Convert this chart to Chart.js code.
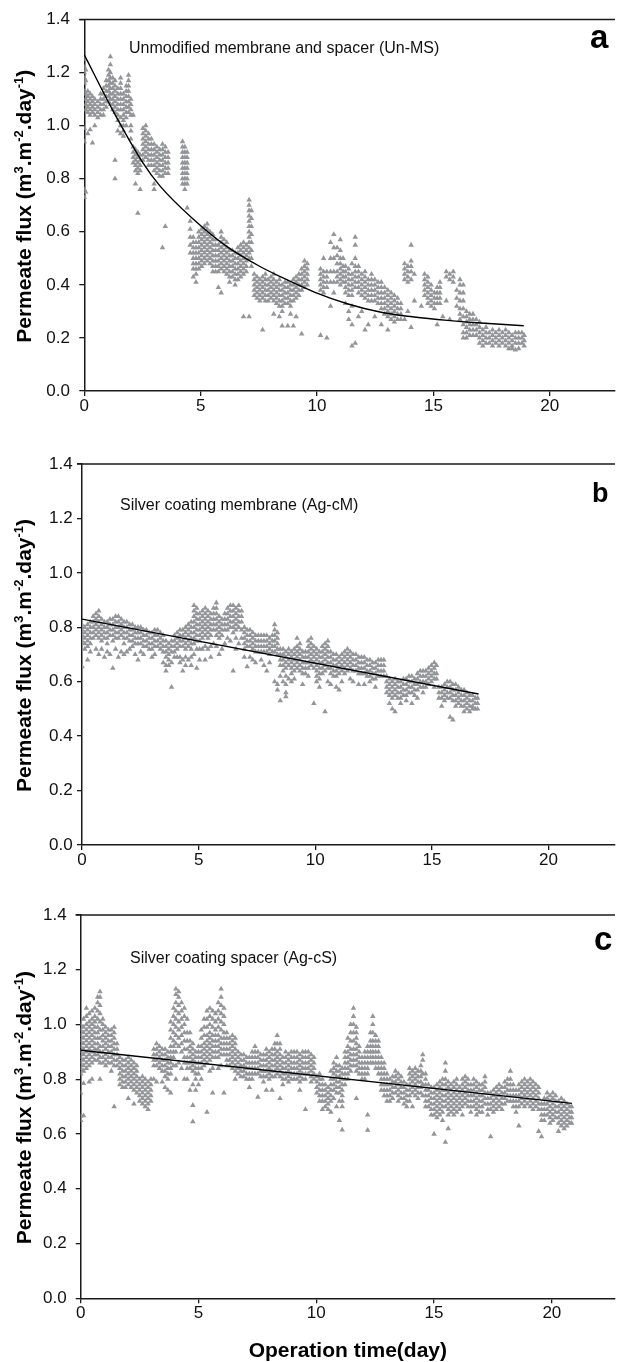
<!DOCTYPE html>
<html>
<head>
<meta charset="utf-8">
<script src="https://cdn.jsdelivr.net/npm/chart.js@4.4.1/dist/chart.umd.min.js"></script>
<style>
  html, body { margin: 0; padding: 0; background: #fff; overflow: hidden; }
  #wrap { position: relative; width: 619px; height: 1362px; background: #fff; }
  canvas { position: absolute; left: 0; }
</style>
</head>
<body>
<div id="wrap">
  <canvas id="chartA" width="619" height="430" style="top:0px"></canvas>
  <canvas id="chartB" width="619" height="450" style="top:430px"></canvas>
  <canvas id="chartC" width="619" height="482" style="top:880px"></canvas>
</div>
<script>
// tick values shared by the three panels
const xTicks = [0, 5, 10, 15, 20];
const yTicks = [0, 0.2, 0.4, 0.6, 0.8, 1.0, 1.2, 1.4];

// y title pieces: [text, isSuperscript]
const yTitleParts = [['Permeate flux (m', false], ['3', true], ['.m', false], ['-2', true], ['.day', false], ['-1', true], [')', false]];
const xTitle = 'Operation time(day)';
const notes = ['Unmodified membrane and spacer (Un-MS)', 'Silver coating membrane (Ag-cM)', 'Silver coating spacer (Ag-cS)'];
const letters = ['a', 'b', 'c'];

// panel a: [time, flux, flux, ...] read column by column
const aCols = [
  [0.0, 1.25, 1.22, 1.2, 1.18, 1.16, 1.13, 0.99, 0.94, 0.76, 0.73],
  [0.06, 1.21, 1.17, 1.12, 1.1, 1.08, 1.06, 0.75],
  [0.15, 1.13, 1.11, 1.09, 1.07, 1.05, 0.97],
  [0.25, 1.12, 1.1, 1.08, 1.06, 1.04, 0.985],
  [0.35, 1.11, 1.09, 1.07, 1.05, 0.935],
  [0.45, 1.1, 1.08, 1.06, 1.04, 1.0],
  [0.58, 1.09, 1.07, 1.05, 1.03],
  [0.7, 1.12, 1.1, 1.08, 1.06, 1.04],
  [0.82, 1.14, 1.12, 1.1, 1.08, 1.06, 1.04],
  [0.94, 1.17, 1.15, 1.13, 1.11, 1.09, 1.07],
  [1.04, 1.21, 1.19, 1.17, 1.15, 1.13, 1.11, 1.09],
  [1.12, 1.26, 1.23, 1.2, 1.18, 1.16, 1.14, 1.12, 1.1, 1.08],
  [1.22, 1.18, 1.16, 1.14, 1.12, 1.1, 1.08, 1.06],
  [1.32, 1.17, 1.15, 1.13, 1.11, 1.09, 1.07, 1.05, 0.87, 0.8],
  [1.44, 1.14, 1.12, 1.1, 1.08, 1.06, 1.04, 1.02, 0.98],
  [1.56, 1.18, 1.16, 1.14, 1.12, 1.1, 1.08, 1.06, 1.03, 1.0, 0.97],
  [1.68, 1.12, 1.1, 1.08, 1.06, 1.04, 1.02, 1.0, 0.98, 0.96],
  [1.8, 1.15, 1.13, 1.11, 1.09, 1.07, 1.05, 1.03, 1.0],
  [1.9, 1.19, 1.17, 1.15, 1.13, 1.11, 1.09, 1.07, 1.05],
  [2.0, 1.1, 1.08, 1.06, 1.04, 1.0, 0.98, 0.95],
  [2.1, 1.04, 0.92, 0.9, 0.88, 0.86],
  [2.2, 0.91, 0.89, 0.87, 0.85, 0.83, 0.78],
  [2.3, 0.9, 0.88, 0.86, 0.84, 0.82, 0.67],
  [2.4, 0.89, 0.87, 0.85, 0.83, 0.76],
  [2.52, 0.99, 0.97, 0.95, 0.93, 0.91, 0.89, 0.87],
  [2.64, 1.0, 0.98, 0.96, 0.94, 0.92, 0.9, 0.88],
  [2.76, 0.97, 0.95, 0.93, 0.91, 0.89, 0.87, 0.85],
  [2.88, 0.95, 0.93, 0.91, 0.89, 0.87, 0.85],
  [3.0, 0.93, 0.91, 0.89, 0.87, 0.85, 0.83, 0.78, 0.76],
  [3.12, 0.92, 0.9, 0.88, 0.86, 0.84, 0.82],
  [3.24, 0.91, 0.89, 0.87, 0.85, 0.83, 0.81],
  [3.36, 0.93, 0.91, 0.89, 0.87, 0.85, 0.83, 0.81, 0.54],
  [3.48, 0.92, 0.9, 0.88, 0.86, 0.84, 0.82, 0.62],
  [3.6, 0.9, 0.88, 0.86, 0.84, 0.82],
  [4.22, 0.94, 0.92, 0.9, 0.88, 0.86, 0.84, 0.82, 0.8, 0.78],
  [4.32, 0.92, 0.9, 0.88, 0.86, 0.84, 0.82, 0.8, 0.78, 0.76],
  [4.42, 0.9, 0.88, 0.86, 0.84, 0.82, 0.8, 0.78, 0.69],
  [4.55, 0.64, 0.61, 0.58, 0.55, 0.52],
  [4.68, 0.58, 0.56, 0.54, 0.52, 0.5, 0.48, 0.46, 0.43],
  [4.8, 0.56, 0.54, 0.52, 0.5, 0.48, 0.46, 0.44, 0.41],
  [4.92, 0.6, 0.58, 0.56, 0.54, 0.52, 0.5, 0.48, 0.46],
  [5.04, 0.61, 0.59, 0.57, 0.55, 0.53, 0.51, 0.49, 0.47],
  [5.16, 0.62, 0.6, 0.58, 0.56, 0.54, 0.52, 0.5, 0.48],
  [5.28, 0.63, 0.61, 0.59, 0.57, 0.55, 0.53, 0.51, 0.49],
  [5.4, 0.6, 0.58, 0.56, 0.54, 0.52, 0.5, 0.48],
  [5.52, 0.59, 0.57, 0.55, 0.53, 0.51, 0.49, 0.47, 0.45],
  [5.64, 0.57, 0.55, 0.53, 0.51, 0.49, 0.47, 0.45],
  [5.76, 0.55, 0.53, 0.51, 0.49, 0.47, 0.45, 0.39],
  [5.88, 0.6, 0.58, 0.56, 0.54, 0.52, 0.5, 0.48, 0.46, 0.37],
  [6.0, 0.57, 0.55, 0.53, 0.51, 0.49, 0.47, 0.45],
  [6.12, 0.56, 0.54, 0.52, 0.5, 0.48, 0.46, 0.44],
  [6.24, 0.53, 0.51, 0.49, 0.47, 0.45, 0.43, 0.41],
  [6.36, 0.53, 0.51, 0.49, 0.47, 0.45, 0.43],
  [6.48, 0.52, 0.5, 0.48, 0.46, 0.44, 0.42, 0.4],
  [6.6, 0.54, 0.52, 0.5, 0.48, 0.46, 0.44, 0.42],
  [6.72, 0.55, 0.53, 0.51, 0.49, 0.47, 0.45, 0.43],
  [6.84, 0.56, 0.54, 0.52, 0.5, 0.48, 0.46, 0.44, 0.28],
  [6.96, 0.55, 0.53, 0.51, 0.49, 0.47, 0.45],
  [7.08, 0.72, 0.7, 0.68, 0.66, 0.64, 0.62, 0.6, 0.58, 0.56, 0.54, 0.52, 0.5, 0.28],
  [7.18, 0.68, 0.65, 0.62, 0.59, 0.56, 0.53, 0.5, 0.47],
  [7.3, 0.44, 0.42, 0.4, 0.38, 0.36],
  [7.42, 0.43, 0.41, 0.39, 0.37, 0.35],
  [7.54, 0.42, 0.4, 0.38, 0.36, 0.34],
  [7.66, 0.43, 0.41, 0.39, 0.37, 0.35, 0.23],
  [7.78, 0.44, 0.42, 0.4, 0.38, 0.36, 0.34],
  [7.9, 0.42, 0.4, 0.38, 0.36, 0.34],
  [8.02, 0.43, 0.41, 0.39, 0.37, 0.35],
  [8.14, 0.44, 0.42, 0.4, 0.38, 0.36, 0.34, 0.29],
  [8.26, 0.41, 0.39, 0.37, 0.35, 0.33],
  [8.38, 0.42, 0.4, 0.38, 0.36, 0.34, 0.32, 0.28],
  [8.5, 0.4, 0.38, 0.36, 0.34, 0.32, 0.3, 0.245],
  [8.62, 0.41, 0.39, 0.37, 0.35, 0.33],
  [8.74, 0.41, 0.39, 0.37, 0.35, 0.33, 0.245],
  [8.86, 0.4, 0.38, 0.36, 0.34, 0.32, 0.29],
  [8.98, 0.42, 0.4, 0.38, 0.36, 0.34, 0.245],
  [9.1, 0.43, 0.41, 0.39, 0.37, 0.35, 0.28],
  [9.22, 0.44, 0.42, 0.4, 0.38, 0.36],
  [9.34, 0.46, 0.44, 0.42, 0.4, 0.38, 0.215],
  [9.46, 0.49, 0.47, 0.45, 0.43, 0.41, 0.39],
  [9.58, 0.48, 0.46, 0.44, 0.42, 0.4],
  [10.15, 0.46, 0.44, 0.42, 0.4, 0.38, 0.21],
  [10.28, 0.5, 0.45, 0.43, 0.41, 0.39, 0.37],
  [10.42, 0.45, 0.43, 0.41, 0.39, 0.2],
  [10.58, 0.56, 0.5, 0.45, 0.41, 0.32],
  [10.72, 0.59, 0.54, 0.5, 0.45, 0.41, 0.37],
  [10.86, 0.54, 0.51, 0.48, 0.45, 0.43, 0.41],
  [11.0, 0.57, 0.53, 0.5, 0.48, 0.46, 0.44, 0.42, 0.4],
  [11.12, 0.5, 0.47, 0.45, 0.43, 0.41],
  [11.22, 0.47, 0.45, 0.43, 0.41, 0.39, 0.37, 0.33],
  [11.36, 0.46, 0.44, 0.42, 0.4, 0.38, 0.36, 0.3, 0.27],
  [11.5, 0.48, 0.44, 0.42, 0.4, 0.38, 0.36, 0.32, 0.25, 0.17],
  [11.64, 0.58, 0.55, 0.5, 0.47, 0.45, 0.43, 0.41, 0.39, 0.18],
  [11.78, 0.47, 0.45, 0.43, 0.41, 0.39, 0.37, 0.28],
  [11.92, 0.44, 0.42, 0.4, 0.38, 0.36, 0.3],
  [12.06, 0.45, 0.43, 0.41, 0.39, 0.37, 0.35, 0.23],
  [12.2, 0.42, 0.4, 0.38, 0.36, 0.34, 0.25],
  [12.34, 0.44, 0.42, 0.4, 0.38, 0.36, 0.34],
  [12.48, 0.42, 0.4, 0.38, 0.36, 0.34, 0.28],
  [12.62, 0.41, 0.39, 0.37, 0.35, 0.33],
  [12.76, 0.41, 0.39, 0.37, 0.35, 0.33, 0.31, 0.25],
  [12.9, 0.39, 0.37, 0.35, 0.33, 0.31, 0.29],
  [13.04, 0.38, 0.36, 0.34, 0.32, 0.3, 0.28, 0.23],
  [13.18, 0.37, 0.35, 0.33, 0.31, 0.29, 0.27],
  [13.32, 0.36, 0.34, 0.32, 0.3, 0.28, 0.26],
  [13.46, 0.35, 0.33, 0.31, 0.29, 0.27],
  [13.6, 0.33, 0.31, 0.29, 0.27],
  [13.76, 0.48, 0.46, 0.44, 0.42, 0.27],
  [13.9, 0.47, 0.45, 0.43, 0.41, 0.3],
  [14.04, 0.55, 0.49, 0.47, 0.45, 0.42, 0.24],
  [14.18, 0.44, 0.34],
  [14.48, 0.32],
  [14.62, 0.44, 0.42, 0.4, 0.38, 0.36],
  [14.76, 0.43, 0.41, 0.39, 0.37, 0.35, 0.33],
  [14.9, 0.4, 0.38, 0.36, 0.34, 0.32],
  [15.04, 0.37, 0.35, 0.33, 0.31],
  [15.16, 0.39, 0.37, 0.35, 0.33, 0.25],
  [15.28, 0.41, 0.39, 0.37, 0.35, 0.33],
  [15.4, 0.28],
  [15.55, 0.45, 0.43, 0.34],
  [15.7, 0.44, 0.42, 0.27],
  [15.85, 0.45, 0.43, 0.41],
  [16.0, 0.38, 0.35, 0.32],
  [16.14, 0.42, 0.4, 0.37, 0.34, 0.31, 0.29, 0.27],
  [16.28, 0.4, 0.37, 0.34, 0.31, 0.28, 0.25, 0.22, 0.2],
  [16.42, 0.3, 0.28, 0.26, 0.24, 0.22, 0.2],
  [16.56, 0.29, 0.27, 0.25, 0.23, 0.21],
  [16.7, 0.29, 0.27, 0.25, 0.23, 0.21],
  [16.84, 0.27, 0.25, 0.23, 0.21],
  [16.98, 0.26, 0.24, 0.22, 0.2, 0.18],
  [17.12, 0.23, 0.21, 0.19, 0.17],
  [17.26, 0.24, 0.22, 0.2, 0.18],
  [17.4, 0.22, 0.2, 0.18],
  [17.54, 0.23, 0.21, 0.19, 0.17],
  [17.68, 0.22, 0.2, 0.18],
  [17.82, 0.23, 0.21, 0.19, 0.17],
  [17.96, 0.22, 0.2, 0.18],
  [18.1, 0.23, 0.21, 0.19, 0.17],
  [18.24, 0.22, 0.2, 0.18, 0.16],
  [18.38, 0.21, 0.19, 0.17, 0.16],
  [18.52, 0.22, 0.2, 0.18, 0.155],
  [18.66, 0.22, 0.2, 0.18, 0.16],
  [18.8, 0.22, 0.2, 0.18],
  [18.9, 0.21, 0.19, 0.17]
];
const aFitT = [0, 1.24, 2.52, 3.23, 4.65, 6.07, 7.49, 8.49, 9.91, 11.33, 12.75, 14.17, 15.6, 16.87, 18.88];
const aFitF = [1.267, 1.055, 0.86, 0.775, 0.65, 0.548, 0.472, 0.428, 0.372, 0.328, 0.297, 0.279, 0.266, 0.257, 0.246];

// panel b
const bCols = [
  [0.0, 0.81, 0.79, 0.77, 0.75, 0.655],
  [0.12, 0.8, 0.78, 0.76, 0.74, 0.72],
  [0.24, 0.81, 0.79, 0.77, 0.75, 0.73, 0.68],
  [0.36, 0.82, 0.8, 0.78, 0.76, 0.74, 0.71],
  [0.48, 0.84, 0.82, 0.8, 0.78, 0.76],
  [0.6, 0.85, 0.83, 0.81, 0.79, 0.77, 0.72],
  [0.72, 0.86, 0.84, 0.82, 0.8, 0.78, 0.76, 0.7],
  [0.84, 0.83, 0.81, 0.79, 0.77, 0.75, 0.72],
  [0.96, 0.82, 0.8, 0.78, 0.76, 0.69],
  [1.08, 0.82, 0.8, 0.78, 0.76, 0.74, 0.71],
  [1.2, 0.83, 0.81, 0.79, 0.77, 0.7],
  [1.32, 0.83, 0.81, 0.79, 0.77, 0.75, 0.65],
  [1.44, 0.84, 0.82, 0.8, 0.78, 0.76, 0.72],
  [1.56, 0.84, 0.82, 0.8, 0.78, 0.76, 0.69],
  [1.68, 0.83, 0.81, 0.79, 0.77, 0.71],
  [1.8, 0.82, 0.8, 0.78, 0.76, 0.74, 0.7],
  [1.92, 0.82, 0.8, 0.78, 0.76, 0.71],
  [2.04, 0.81, 0.79, 0.77, 0.75, 0.72],
  [2.16, 0.81, 0.79, 0.77, 0.75, 0.73],
  [2.28, 0.8, 0.78, 0.76, 0.74, 0.7],
  [2.4, 0.8, 0.78, 0.76, 0.74, 0.68],
  [2.52, 0.8, 0.78, 0.76, 0.74, 0.71],
  [2.64, 0.79, 0.77, 0.75, 0.73, 0.7],
  [2.76, 0.79, 0.77, 0.75, 0.73],
  [2.88, 0.78, 0.76, 0.74, 0.72],
  [3.0, 0.78, 0.76, 0.74, 0.72, 0.69],
  [3.12, 0.79, 0.77, 0.75, 0.73, 0.7],
  [3.24, 0.79, 0.77, 0.75, 0.73],
  [3.36, 0.78, 0.76, 0.74, 0.72],
  [3.48, 0.77, 0.75, 0.73, 0.71, 0.67],
  [3.6, 0.75, 0.73, 0.71, 0.69, 0.66, 0.64],
  [3.72, 0.74, 0.72, 0.7, 0.68, 0.66],
  [3.84, 0.75, 0.73, 0.71, 0.67, 0.58],
  [3.96, 0.77, 0.75, 0.73, 0.71, 0.69],
  [4.08, 0.78, 0.76, 0.74, 0.72, 0.69],
  [4.2, 0.79, 0.77, 0.75, 0.73, 0.69, 0.67],
  [4.32, 0.79, 0.77, 0.75, 0.73, 0.68, 0.64],
  [4.44, 0.8, 0.78, 0.76, 0.74, 0.72, 0.69, 0.66],
  [4.56, 0.81, 0.79, 0.77, 0.75, 0.73, 0.68],
  [4.68, 0.82, 0.8, 0.78, 0.76, 0.74, 0.72, 0.69, 0.66],
  [4.8, 0.88, 0.86, 0.84, 0.82, 0.8, 0.78, 0.76, 0.74, 0.7],
  [4.92, 0.87, 0.85, 0.83, 0.81, 0.79, 0.77, 0.75, 0.72, 0.65],
  [5.04, 0.85, 0.83, 0.81, 0.79, 0.77, 0.75, 0.72, 0.68],
  [5.16, 0.86, 0.84, 0.82, 0.8, 0.78, 0.76, 0.72],
  [5.28, 0.87, 0.85, 0.83, 0.81, 0.79, 0.77, 0.73, 0.68],
  [5.4, 0.86, 0.84, 0.82, 0.8, 0.78, 0.76, 0.72],
  [5.52, 0.85, 0.83, 0.81, 0.79, 0.77, 0.73, 0.69],
  [5.64, 0.87, 0.85, 0.83, 0.81, 0.79, 0.74],
  [5.76, 0.89, 0.87, 0.85, 0.83, 0.81, 0.79, 0.77, 0.73],
  [5.88, 0.84, 0.82, 0.8, 0.78, 0.76, 0.7],
  [6.0, 0.83, 0.81, 0.79, 0.77, 0.72],
  [6.12, 0.85, 0.83, 0.81, 0.79, 0.74],
  [6.24, 0.87, 0.85, 0.83, 0.81, 0.79, 0.76],
  [6.36, 0.88, 0.86, 0.84, 0.82, 0.8, 0.75],
  [6.48, 0.88, 0.86, 0.84, 0.82, 0.8, 0.78, 0.64],
  [6.6, 0.87, 0.85, 0.83, 0.81, 0.79, 0.76, 0.72],
  [6.72, 0.88, 0.86, 0.84, 0.82, 0.8, 0.74],
  [6.84, 0.86, 0.84, 0.82, 0.79, 0.76],
  [6.96, 0.8, 0.78, 0.76, 0.74, 0.72, 0.69],
  [7.08, 0.79, 0.77, 0.75, 0.73, 0.655],
  [7.2, 0.79, 0.77, 0.75, 0.73, 0.69],
  [7.32, 0.78, 0.76, 0.74, 0.72, 0.68],
  [7.44, 0.77, 0.75, 0.73, 0.71, 0.67],
  [7.56, 0.77, 0.75, 0.73, 0.71],
  [7.68, 0.77, 0.75, 0.73, 0.71, 0.68],
  [7.8, 0.77, 0.75, 0.73, 0.71, 0.66],
  [7.92, 0.77, 0.75, 0.73, 0.71, 0.64],
  [8.04, 0.76, 0.74, 0.72, 0.7, 0.67],
  [8.16, 0.77, 0.75, 0.73, 0.71],
  [8.26, 0.81, 0.79, 0.77, 0.75, 0.73, 0.71, 0.6],
  [8.38, 0.78, 0.76, 0.74, 0.72, 0.7, 0.59, 0.57],
  [8.5, 0.72, 0.7, 0.68, 0.66, 0.62, 0.53],
  [8.62, 0.72, 0.7, 0.68, 0.66, 0.64, 0.6],
  [8.74, 0.71, 0.69, 0.67, 0.65, 0.62, 0.59, 0.56, 0.545],
  [8.86, 0.72, 0.7, 0.68, 0.66, 0.61],
  [8.98, 0.71, 0.69, 0.67, 0.65, 0.63, 0.6],
  [9.1, 0.72, 0.7, 0.68, 0.66, 0.64, 0.61],
  [9.22, 0.76, 0.73, 0.71, 0.69, 0.67, 0.65],
  [9.34, 0.74, 0.72, 0.7, 0.68, 0.66, 0.64],
  [9.46, 0.71, 0.69, 0.67, 0.65, 0.63, 0.59],
  [9.58, 0.71, 0.69, 0.67, 0.65, 0.63],
  [9.7, 0.75, 0.73, 0.71, 0.69, 0.67, 0.65, 0.62],
  [9.82, 0.76, 0.74, 0.72, 0.7, 0.68, 0.66],
  [9.94, 0.73, 0.71, 0.69, 0.67, 0.65, 0.52],
  [10.06, 0.72, 0.7, 0.68, 0.66, 0.64, 0.62, 0.6],
  [10.18, 0.71, 0.69, 0.67, 0.65, 0.63, 0.61, 0.58],
  [10.3, 0.73, 0.71, 0.69, 0.67, 0.65, 0.63],
  [10.42, 0.74, 0.72, 0.7, 0.68, 0.66, 0.64, 0.49],
  [10.54, 0.75, 0.73, 0.71, 0.69, 0.67, 0.65, 0.6],
  [10.66, 0.71, 0.69, 0.67, 0.65, 0.63, 0.59],
  [10.78, 0.7, 0.68, 0.66, 0.64, 0.62],
  [10.9, 0.7, 0.68, 0.66, 0.64, 0.62, 0.58],
  [11.02, 0.69, 0.67, 0.65, 0.63, 0.57],
  [11.14, 0.7, 0.68, 0.66, 0.64, 0.6],
  [11.26, 0.71, 0.69, 0.67, 0.65, 0.63],
  [11.38, 0.72, 0.7, 0.68, 0.66, 0.64],
  [11.5, 0.71, 0.69, 0.67, 0.65, 0.61],
  [11.62, 0.7, 0.68, 0.66, 0.64, 0.6],
  [11.74, 0.7, 0.68, 0.66, 0.64],
  [11.86, 0.69, 0.67, 0.65, 0.63, 0.59],
  [11.98, 0.69, 0.67, 0.65, 0.63],
  [12.1, 0.69, 0.67, 0.65, 0.63, 0.59],
  [12.22, 0.68, 0.66, 0.64, 0.62],
  [12.34, 0.68, 0.66, 0.64, 0.62, 0.6],
  [12.46, 0.67, 0.65, 0.63, 0.61],
  [12.58, 0.67, 0.65, 0.63, 0.61, 0.58],
  [12.7, 0.68, 0.66, 0.64, 0.62],
  [12.82, 0.68, 0.66, 0.64, 0.62],
  [12.94, 0.68, 0.66, 0.64, 0.62],
  [13.06, 0.62, 0.6, 0.58, 0.56],
  [13.18, 0.61, 0.59, 0.57, 0.55, 0.52],
  [13.3, 0.6, 0.58, 0.56, 0.54, 0.5],
  [13.42, 0.61, 0.59, 0.57, 0.55, 0.49],
  [13.54, 0.6, 0.58, 0.56, 0.54],
  [13.66, 0.6, 0.58, 0.56, 0.54, 0.52],
  [13.78, 0.61, 0.59, 0.57, 0.55],
  [13.9, 0.61, 0.59, 0.57, 0.55, 0.53],
  [14.02, 0.62, 0.6, 0.58, 0.56],
  [14.14, 0.62, 0.6, 0.58, 0.56, 0.52],
  [14.26, 0.61, 0.59, 0.57, 0.55],
  [14.38, 0.63, 0.61, 0.59, 0.57, 0.54],
  [14.5, 0.64, 0.62, 0.6, 0.58],
  [14.62, 0.64, 0.62, 0.6, 0.58, 0.56],
  [14.74, 0.64, 0.62, 0.6, 0.58],
  [14.86, 0.65, 0.63, 0.61, 0.59],
  [14.98, 0.66, 0.64, 0.62, 0.6],
  [15.1, 0.67, 0.65, 0.63, 0.61, 0.58],
  [15.2, 0.66, 0.63, 0.61],
  [15.3, 0.58, 0.56, 0.54],
  [15.42, 0.58, 0.56, 0.54, 0.51],
  [15.54, 0.59, 0.57, 0.55, 0.53],
  [15.66, 0.6, 0.58, 0.56, 0.54],
  [15.78, 0.6, 0.58, 0.56, 0.54, 0.47],
  [15.9, 0.59, 0.57, 0.55, 0.53, 0.46],
  [16.02, 0.59, 0.57, 0.55, 0.53, 0.51],
  [16.14, 0.58, 0.56, 0.54, 0.52],
  [16.26, 0.57, 0.55, 0.53, 0.51],
  [16.38, 0.57, 0.55, 0.53, 0.51, 0.49],
  [16.5, 0.56, 0.54, 0.52, 0.5],
  [16.62, 0.55, 0.53, 0.51, 0.49],
  [16.74, 0.55, 0.53, 0.51, 0.5],
  [16.86, 0.54, 0.52, 0.5],
  [16.96, 0.54, 0.52, 0.5]
];
const bFitT = [0, 17.0];
const bFitF = [0.83, 0.555];

// panel c
const cCols = [
  [0.0, 1.0, 0.98, 0.96, 0.94, 0.92, 0.9, 0.88, 0.86, 0.84, 0.82, 0.75, 0.665, 0.65],
  [0.12, 1.02, 0.99, 0.97, 0.95, 0.93, 0.91, 0.89, 0.87, 0.85, 0.83, 0.785, 0.667],
  [0.24, 1.06, 1.03, 1.0, 0.98, 0.96, 0.94, 0.92, 0.9, 0.88, 0.86, 0.84],
  [0.36, 1.04, 1.01, 0.99, 0.97, 0.95, 0.93, 0.91, 0.89, 0.87, 0.85, 0.79],
  [0.48, 1.05, 1.02, 1.0, 0.98, 0.96, 0.94, 0.92, 0.9, 0.88, 0.86, 0.8],
  [0.6, 1.06, 1.03, 1.01, 0.99, 0.97, 0.95, 0.93, 0.91, 0.89, 0.87],
  [0.72, 1.1, 1.08, 1.05, 1.02, 0.99, 0.97, 0.95, 0.93, 0.91, 0.89, 0.87],
  [0.82, 1.12, 1.1, 1.07, 1.04, 1.01, 0.98, 0.95, 0.92, 0.9, 0.88, 0.86, 0.8],
  [0.94, 1.02, 1.0, 0.98, 0.96, 0.94, 0.92, 0.9, 0.88, 0.86],
  [1.06, 0.99, 0.97, 0.95, 0.93, 0.91, 0.89, 0.87, 0.85],
  [1.18, 0.98, 0.96, 0.94, 0.92, 0.9, 0.88, 0.86],
  [1.3, 0.98, 0.96, 0.94, 0.92, 0.9, 0.88, 0.86, 0.83],
  [1.42, 0.99, 0.97, 0.95, 0.93, 0.91, 0.89, 0.87, 0.85, 0.7],
  [1.54, 0.93, 0.91, 0.89, 0.87, 0.85],
  [1.66, 0.88, 0.86, 0.84, 0.82, 0.8, 0.78],
  [1.78, 0.87, 0.85, 0.83, 0.81, 0.79, 0.77],
  [1.9, 0.87, 0.85, 0.83, 0.81, 0.79, 0.77],
  [2.02, 0.88, 0.86, 0.84, 0.82, 0.8, 0.78, 0.73],
  [2.14, 0.87, 0.85, 0.83, 0.81, 0.79, 0.77],
  [2.26, 0.86, 0.84, 0.82, 0.8, 0.78, 0.76, 0.71],
  [2.38, 0.85, 0.83, 0.81, 0.79, 0.77, 0.75],
  [2.5, 0.8, 0.78, 0.76, 0.74, 0.72],
  [2.62, 0.81, 0.79, 0.77, 0.75, 0.73, 0.71],
  [2.74, 0.8, 0.78, 0.76, 0.74, 0.72, 0.7],
  [2.86, 0.79, 0.77, 0.75, 0.73, 0.71, 0.69],
  [2.98, 0.8, 0.78, 0.76, 0.74, 0.72],
  [3.1, 0.91, 0.89, 0.87, 0.85, 0.8],
  [3.22, 0.93, 0.91, 0.89, 0.87, 0.85, 0.79],
  [3.34, 0.92, 0.9, 0.88, 0.86, 0.84],
  [3.46, 0.91, 0.89, 0.87, 0.85, 0.83, 0.79],
  [3.58, 0.91, 0.89, 0.87, 0.85, 0.83, 0.81, 0.77],
  [3.7, 0.9, 0.88, 0.86, 0.84, 0.82, 0.8, 0.76],
  [3.82, 1.01, 0.98, 0.95, 0.92, 0.9, 0.88, 0.86, 0.84, 0.82, 0.75],
  [3.94, 1.06, 1.03, 1.0, 0.97, 0.94, 0.92, 0.9, 0.88, 0.85],
  [4.04, 1.13, 1.11, 1.08, 1.05, 1.02, 0.99, 0.96, 0.93, 0.9, 0.85, 0.8],
  [4.16, 1.12, 1.1, 1.07, 1.04, 1.01, 0.98, 0.95, 0.92, 0.86],
  [4.28, 1.08, 1.05, 1.02, 0.99, 0.96, 0.93, 0.9, 0.84],
  [4.4, 1.06, 1.03, 1.0, 0.97, 0.94, 0.91, 0.88, 0.86, 0.8],
  [4.52, 1.02, 0.97, 0.94, 0.91, 0.88, 0.86, 0.84, 0.8],
  [4.64, 0.97, 0.94, 0.92, 0.9, 0.88, 0.86, 0.84, 0.76],
  [4.76, 0.93, 0.91, 0.89, 0.87, 0.85, 0.83, 0.78, 0.705, 0.645],
  [4.88, 0.9, 0.88, 0.86, 0.84, 0.82, 0.8, 0.76],
  [5.0, 0.92, 0.9, 0.88, 0.86, 0.84, 0.82, 0.78],
  [5.12, 0.98, 0.95, 0.92, 0.9, 0.88, 0.86, 0.84, 0.8],
  [5.24, 1.02, 0.99, 0.96, 0.93, 0.91, 0.89, 0.87, 0.85],
  [5.36, 1.05, 1.02, 0.99, 0.96, 0.94, 0.92, 0.9, 0.88, 0.86, 0.68],
  [5.48, 1.06, 1.03, 1.0, 0.97, 0.95, 0.93, 0.91, 0.89, 0.87, 0.83],
  [5.6, 1.05, 1.02, 0.99, 0.96, 0.94, 0.92, 0.9, 0.88, 0.84, 0.75],
  [5.72, 1.04, 1.01, 0.98, 0.96, 0.94, 0.92, 0.9, 0.88],
  [5.84, 1.08, 1.05, 1.02, 0.99, 0.96, 0.94, 0.92, 0.9, 0.88, 0.84],
  [5.96, 1.13, 1.1, 1.07, 1.04, 1.01, 0.98, 0.95, 0.93, 0.91, 0.89, 0.85],
  [6.08, 1.06, 1.03, 1.0, 0.97, 0.95, 0.93, 0.91, 0.89, 0.75],
  [6.2, 0.97, 0.95, 0.93, 0.91, 0.89, 0.87, 0.85],
  [6.32, 0.95, 0.93, 0.91, 0.89, 0.87, 0.85],
  [6.44, 0.96, 0.94, 0.92, 0.9, 0.88, 0.86, 0.84],
  [6.56, 0.95, 0.93, 0.91, 0.89, 0.87, 0.85, 0.83, 0.8],
  [6.68, 0.9, 0.88, 0.86, 0.84, 0.82],
  [6.8, 0.89, 0.87, 0.85, 0.83, 0.81],
  [6.92, 0.89, 0.87, 0.85, 0.83, 0.81],
  [7.04, 0.88, 0.86, 0.84, 0.82, 0.8],
  [7.16, 0.88, 0.86, 0.84, 0.82, 0.8, 0.77],
  [7.28, 0.9, 0.88, 0.86, 0.84, 0.82, 0.8],
  [7.4, 0.92, 0.9, 0.88, 0.86, 0.84, 0.82],
  [7.52, 0.9, 0.88, 0.86, 0.84, 0.82, 0.735],
  [7.64, 0.89, 0.87, 0.85, 0.83, 0.81],
  [7.76, 0.89, 0.87, 0.85, 0.83, 0.81, 0.79],
  [7.88, 0.91, 0.89, 0.87, 0.85, 0.83, 0.81, 0.76],
  [8.0, 0.9, 0.88, 0.86, 0.84, 0.82, 0.8],
  [8.12, 0.91, 0.89, 0.87, 0.85, 0.83, 0.81, 0.76],
  [8.24, 0.93, 0.91, 0.89, 0.87, 0.85, 0.83, 0.81],
  [8.34, 0.96, 0.93, 0.9, 0.88, 0.86, 0.84, 0.82],
  [8.46, 0.93, 0.91, 0.89, 0.87, 0.85, 0.83, 0.81, 0.73],
  [8.58, 0.88, 0.86, 0.84, 0.82, 0.8, 0.78],
  [8.7, 0.9, 0.88, 0.86, 0.84, 0.82, 0.8],
  [8.82, 0.89, 0.87, 0.85, 0.83, 0.81, 0.79],
  [8.94, 0.9, 0.88, 0.86, 0.84, 0.82, 0.8],
  [9.06, 0.9, 0.88, 0.86, 0.84, 0.82, 0.8],
  [9.18, 0.9, 0.88, 0.86, 0.84, 0.82, 0.8],
  [9.3, 0.89, 0.87, 0.85, 0.83, 0.81, 0.79, 0.76],
  [9.42, 0.9, 0.88, 0.86, 0.84, 0.82, 0.8],
  [9.54, 0.9, 0.88, 0.86, 0.84, 0.82, 0.8, 0.69],
  [9.66, 0.9, 0.88, 0.86, 0.84, 0.82],
  [9.78, 0.89, 0.87, 0.85, 0.83, 0.81, 0.79],
  [9.9, 0.88, 0.86, 0.84, 0.82, 0.8],
  [10.02, 0.81, 0.79, 0.77, 0.75],
  [10.14, 0.82, 0.8, 0.78, 0.76, 0.74, 0.72],
  [10.26, 0.8, 0.78, 0.76, 0.74, 0.72, 0.69],
  [10.38, 0.78, 0.76, 0.74, 0.72, 0.7],
  [10.5, 0.77, 0.75, 0.73, 0.71, 0.69],
  [10.62, 0.83, 0.8, 0.78, 0.76, 0.74, 0.72, 0.68],
  [10.74, 0.86, 0.84, 0.82, 0.8, 0.78, 0.76, 0.73],
  [10.86, 0.88, 0.85, 0.83, 0.81, 0.79, 0.77, 0.75, 0.7],
  [10.98, 0.85, 0.83, 0.81, 0.79, 0.77, 0.75, 0.72, 0.65],
  [11.1, 0.84, 0.82, 0.8, 0.78, 0.76, 0.74, 0.72, 0.7, 0.615],
  [11.22, 0.9, 0.88, 0.86, 0.84, 0.82, 0.8, 0.78],
  [11.34, 0.95, 0.92, 0.9, 0.88, 0.86, 0.84, 0.82, 0.8],
  [11.46, 1.0, 0.97, 0.94, 0.91, 0.89, 0.87, 0.85, 0.83],
  [11.58, 1.06, 1.03, 1.0, 0.97, 0.94, 0.91, 0.89, 0.87, 0.85],
  [11.7, 0.99, 0.97, 0.95, 0.93, 0.91, 0.89, 0.87, 0.85, 0.83, 0.73],
  [11.82, 0.92, 0.9, 0.88, 0.86, 0.84, 0.82],
  [11.94, 0.88, 0.86, 0.84, 0.82, 0.8],
  [12.06, 0.9, 0.88, 0.86, 0.84, 0.82, 0.8],
  [12.18, 0.92, 0.9, 0.88, 0.86, 0.84, 0.82, 0.67, 0.614],
  [12.3, 0.97, 0.94, 0.92, 0.9, 0.88, 0.86],
  [12.4, 1.03, 1.0, 0.97, 0.94, 0.92, 0.9, 0.88, 0.86],
  [12.52, 0.96, 0.94, 0.92, 0.9, 0.88, 0.86, 0.84],
  [12.64, 0.94, 0.92, 0.9, 0.88, 0.86, 0.84, 0.82],
  [12.76, 0.88, 0.86, 0.84, 0.82, 0.8, 0.78, 0.76],
  [12.88, 0.86, 0.84, 0.82, 0.8, 0.78, 0.76, 0.74],
  [13.0, 0.82, 0.8, 0.78, 0.76, 0.74, 0.72],
  [13.12, 0.8, 0.78, 0.76, 0.74, 0.72],
  [13.24, 0.81, 0.79, 0.77, 0.75, 0.73],
  [13.36, 0.83, 0.81, 0.79, 0.77, 0.75],
  [13.48, 0.82, 0.8, 0.78, 0.76, 0.74, 0.72],
  [13.6, 0.81, 0.79, 0.77, 0.75, 0.73],
  [13.72, 0.79, 0.77, 0.75, 0.73, 0.71],
  [13.84, 0.78, 0.76, 0.74, 0.72, 0.7],
  [13.96, 0.84, 0.82, 0.8, 0.78, 0.76, 0.74, 0.72],
  [14.08, 0.83, 0.81, 0.79, 0.77, 0.75, 0.7],
  [14.2, 0.84, 0.82, 0.8, 0.78, 0.76, 0.74],
  [14.32, 0.83, 0.81, 0.79, 0.77, 0.75, 0.73],
  [14.44, 0.85, 0.83, 0.81, 0.79, 0.77, 0.75],
  [14.52, 0.89, 0.87, 0.82, 0.78, 0.74],
  [14.64, 0.82, 0.8, 0.78, 0.76, 0.74, 0.72, 0.7],
  [14.76, 0.78, 0.76, 0.74, 0.72, 0.7],
  [14.88, 0.77, 0.75, 0.73, 0.71, 0.69, 0.67],
  [15.0, 0.77, 0.75, 0.73, 0.71, 0.69, 0.67, 0.6],
  [15.12, 0.78, 0.76, 0.74, 0.72, 0.7, 0.68, 0.66],
  [15.24, 0.79, 0.77, 0.75, 0.73, 0.71, 0.69, 0.67],
  [15.36, 0.8, 0.78, 0.76, 0.74, 0.72, 0.7, 0.68, 0.65],
  [15.48, 0.86, 0.83, 0.8, 0.78, 0.76, 0.74, 0.72, 0.7, 0.57],
  [15.6, 0.79, 0.77, 0.75, 0.73, 0.71, 0.69, 0.67, 0.62],
  [15.72, 0.78, 0.76, 0.74, 0.72, 0.7, 0.68],
  [15.84, 0.79, 0.77, 0.75, 0.73, 0.71, 0.69, 0.67],
  [15.96, 0.8, 0.78, 0.76, 0.74, 0.72, 0.7, 0.68],
  [16.08, 0.77, 0.75, 0.73, 0.71, 0.69],
  [16.2, 0.8, 0.78, 0.76, 0.74, 0.72, 0.7, 0.67],
  [16.32, 0.81, 0.79, 0.77, 0.75, 0.73, 0.71],
  [16.44, 0.8, 0.78, 0.76, 0.74, 0.72, 0.7],
  [16.56, 0.78, 0.76, 0.74, 0.72, 0.7, 0.68],
  [16.68, 0.8, 0.78, 0.76, 0.74, 0.72, 0.7],
  [16.8, 0.79, 0.77, 0.75, 0.73, 0.71, 0.69, 0.67],
  [16.92, 0.78, 0.76, 0.74, 0.72, 0.7, 0.68],
  [17.04, 0.78, 0.76, 0.74, 0.72, 0.7, 0.68],
  [17.16, 0.81, 0.79, 0.77, 0.75, 0.73, 0.71],
  [17.28, 0.75, 0.73, 0.71, 0.69, 0.67],
  [17.4, 0.75, 0.73, 0.71, 0.69, 0.59],
  [17.52, 0.76, 0.74, 0.72, 0.7, 0.68],
  [17.64, 0.77, 0.75, 0.73, 0.71, 0.69],
  [17.76, 0.78, 0.76, 0.74, 0.72, 0.7],
  [17.88, 0.77, 0.75, 0.73, 0.71, 0.69],
  [18.0, 0.79, 0.77, 0.75, 0.73, 0.71],
  [18.12, 0.8, 0.78, 0.76, 0.74, 0.72],
  [18.24, 0.83, 0.8, 0.78, 0.76, 0.74, 0.72],
  [18.36, 0.78, 0.76, 0.74, 0.72, 0.7],
  [18.48, 0.76, 0.74, 0.72, 0.7, 0.68],
  [18.6, 0.78, 0.76, 0.74, 0.72, 0.7, 0.63],
  [18.72, 0.79, 0.77, 0.75, 0.73, 0.71],
  [18.84, 0.8, 0.78, 0.76, 0.74, 0.72, 0.7],
  [18.96, 0.79, 0.77, 0.75, 0.73, 0.71],
  [19.08, 0.8, 0.78, 0.76, 0.74, 0.72, 0.7],
  [19.2, 0.79, 0.77, 0.75, 0.73, 0.71, 0.69],
  [19.32, 0.78, 0.76, 0.74, 0.72, 0.7],
  [19.44, 0.77, 0.75, 0.73, 0.71, 0.69, 0.61],
  [19.56, 0.71, 0.69, 0.67, 0.65, 0.59],
  [19.68, 0.73, 0.71, 0.69, 0.67, 0.65],
  [19.8, 0.75, 0.73, 0.71, 0.69, 0.67],
  [19.92, 0.74, 0.72, 0.7, 0.68, 0.66, 0.64],
  [20.04, 0.75, 0.73, 0.71, 0.69, 0.67, 0.65],
  [20.16, 0.74, 0.72, 0.7, 0.68, 0.66],
  [20.28, 0.72, 0.7, 0.68, 0.66, 0.64, 0.61],
  [20.4, 0.73, 0.71, 0.69, 0.67, 0.65, 0.63],
  [20.52, 0.72, 0.7, 0.68, 0.66, 0.64, 0.62],
  [20.64, 0.71, 0.69, 0.67, 0.65, 0.63],
  [20.76, 0.7, 0.68, 0.66, 0.64],
  [20.84, 0.7, 0.68, 0.66, 0.64]
];
const cFitT = [0, 20.85];
const cFitF = [0.906, 0.712];

const FONT = "'Liberation Sans', Arial, Helvetica, sans-serif";
const INK = '#1a1a1a';
const MARK = '#939598';

Chart.defaults.font.family = FONT;
Chart.defaults.color = INK;

function colsToPoints(cols) {
  const pts = [];
  cols.forEach(([t, ...fluxes]) => fluxes.forEach(f => pts.push({ x: t, y: f })));
  return pts;
}

function zipPoints(ts, fs) {
  return ts.map((t, i) => ({ x: t, y: fs[i] }));
}

function drawYTitle(ctx, cx, cy) {
  const big = 'bold 21px ' + FONT;
  const small = 'bold 13px ' + FONT;
  let total = 0;
  yTitleParts.forEach(([s, sup]) => { ctx.font = sup ? small : big; total += ctx.measureText(s).width; });
  ctx.save();
  ctx.translate(cx, cy);
  ctx.rotate(-Math.PI / 2);
  ctx.fillStyle = '#000';
  ctx.textBaseline = 'alphabetic';
  let x = -total / 2;
  yTitleParts.forEach(([s, sup]) => {
    ctx.font = sup ? small : big;
    ctx.fillText(s, x, sup ? -8 : 0);
    x += ctx.measureText(s).width;
  });
  ctx.restore();
}

// frame top line, y title, note and panel letter
const decorPlugin = {
  id: 'decor',
  afterDraw(chart, args, opts) {
    const { ctx, chartArea } = chart;
    ctx.save();
    ctx.strokeStyle = INK;
    ctx.lineWidth = 1.5;
    ctx.beginPath();
    ctx.moveTo(chartArea.left - 5, chartArea.top);
    ctx.lineTo(chartArea.right, chartArea.top);
    ctx.stroke();

    drawYTitle(ctx, 31, (chartArea.top + chartArea.bottom) / 2 + 1);

    ctx.fillStyle = '#111';
    ctx.textBaseline = 'alphabetic';
    ctx.textAlign = 'left';
    ctx.font = '16px ' + FONT;
    ctx.fillText(opts.note, opts.noteX, opts.noteY);

    ctx.fillStyle = '#000';
    ctx.font = 'bold ' + opts.letterSize + 'px ' + FONT;
    ctx.fillText(opts.letter, opts.letterX, opts.letterY);
    ctx.restore();
  }
};

const panels = [
  { id: 'chartA', cols: aCols, fitT: aFitT, fitF: aFitF, left: 84.3, top: 15.3, axisH: 39, xMax: 22.8, yPad: 9.3,
    note: notes[0], noteX: 129, noteY: 53, letter: letters[0], letterSize: 33, letterX: 590, letterY: 48, xTitle: false },
  { id: 'chartB', cols: bCols, fitT: bFitT, fitF: bFitF, left: 82, top: 34, axisH: 35, xMax: 22.85, yPad: 4.3,
    note: notes[1], noteX: 120, noteY: 80, letter: letters[1], letterSize: 27, letterX: 592, letterY: 72, xTitle: false },
  { id: 'chartC', cols: cCols, fitT: cFitT, fitF: cFitF, left: 80.7, top: 35, axisH: 63.7, xMax: 22.68, yPad: 9,
    note: notes[2], noteX: 130, noteY: 83, letter: letters[2], letterSize: 33, letterX: 594, letterY: 70, xTitle: true }
];

panels.forEach(p => {
  const ctx = document.getElementById(p.id).getContext('2d');
  new Chart(ctx, {
    type: 'scatter',
    data: {
      datasets: [
        {
          type: 'line',
          data: zipPoints(p.fitT, p.fitF),
          borderColor: '#000',
          borderWidth: 1.4,
          pointRadius: 0,
          fill: false,
          cubicInterpolationMode: 'monotone'
        },
        {
          data: colsToPoints(p.cols),
          pointStyle: 'triangle',
          pointRadius: 3.2,
          pointBackgroundColor: MARK,
          pointBorderWidth: 0,
          borderWidth: 0
        }
      ]
    },
    options: {
      responsive: false,
      animation: false,
      devicePixelRatio: 1,
      events: [],
      layout: { padding: { top: p.top, right: 0, bottom: 0, left: 0 } },
      plugins: {
        legend: { display: false },
        tooltip: { enabled: false },
        decor: p
      },
      scales: {
        x: {
          type: 'linear',
          min: 0,
          max: p.xMax,
          afterBuildTicks: s => { s.ticks = xTicks.map(v => ({ value: v })); },
          afterFit: s => { s.height = p.axisH; },
          grid: { drawOnChartArea: false, drawTicks: true, tickLength: 5, color: INK, lineWidth: 1.3 },
          border: { display: true, color: INK, width: 1.5 },
          ticks: { padding: 0, maxRotation: 0, autoSkip: false, color: '#111', font: { size: 17 } },
          title: {
            display: p.xTitle,
            text: xTitle,
            color: '#000',
            font: { size: 21, weight: 'bold', lineHeight: 1 },
            padding: { top: 0, bottom: 0.5 }
          }
        },
        y: {
          type: 'linear',
          min: 0,
          max: 1.4,
          afterBuildTicks: s => { s.ticks = yTicks.map(v => ({ value: v })); },
          afterFit: s => { s.width = p.left; },
          grid: { drawOnChartArea: false, drawTicks: true, tickLength: 5, color: INK, lineWidth: 1.3 },
          border: { display: true, color: INK, width: 1.5 },
          ticks: { padding: p.yPad, color: '#111', font: { size: 17 }, callback: v => v.toFixed(1) }
        }
      }
    },
    plugins: [decorPlugin]
  });
});
</script>
</body>
</html>
